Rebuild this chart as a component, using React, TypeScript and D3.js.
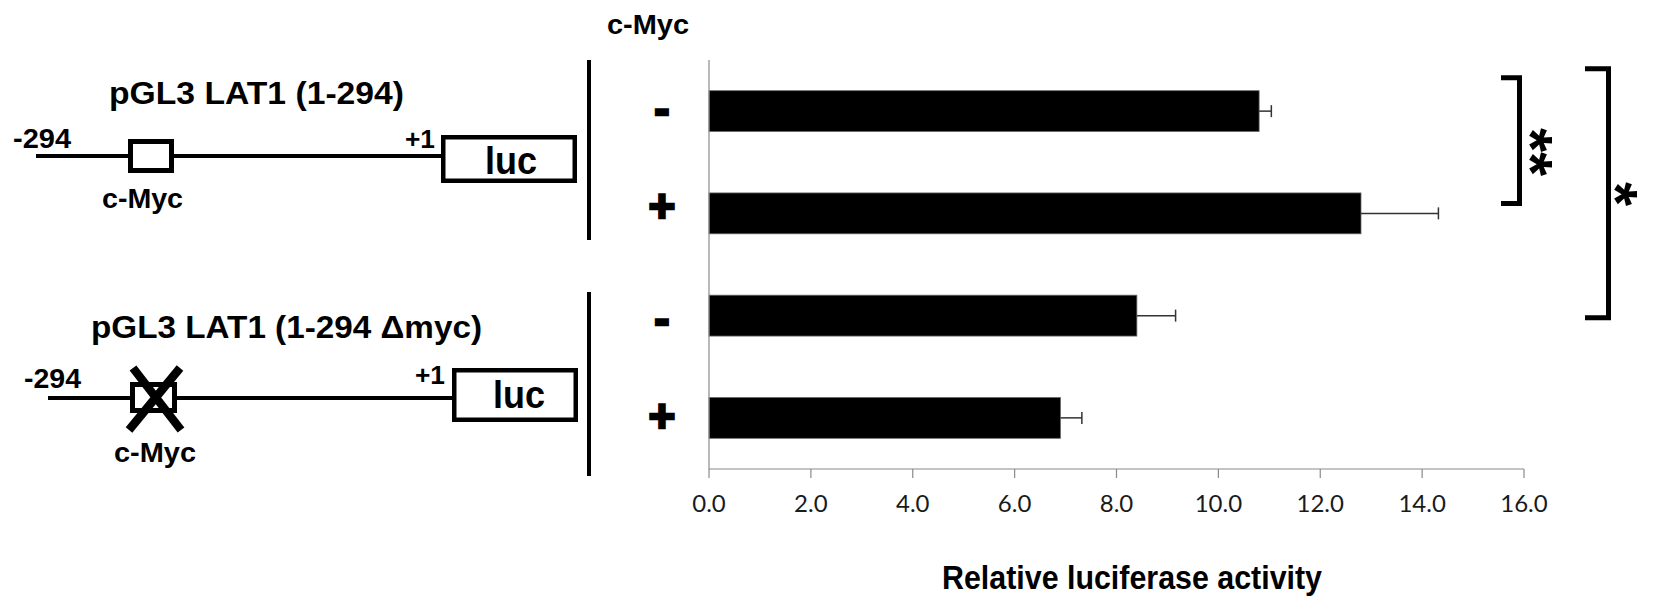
import React from 'react'
import * as d3 from 'd3'

// bar data, top to bottom
const categories = ['wt-', 'wt+', 'dm-', 'dm+']
const signs = ['-', '+', '-', '+']
const values = [10.8, 12.8, 8.4, 6.9]
const errors = [0.24, 1.52, 0.76, 0.42]
const ticks = [0, 2, 4, 6, 8, 10, 12, 14, 16]
const constructs = ['pGL3 LAT1 (1-294)', 'pGL3 LAT1 (1-294 \u0394myc)']
const yTitle = 'c-Myc'
const xTitle = 'Relative luciferase activity'

const W = 1654
const H = 609
const ARIAL = "'Liberation Sans', Arial, Helvetica, sans-serif"
const AXIS_GREY = '#8a8a8a'

function Label({ x, y, w, size, text }: { x: number; y: number; w: number; size: number; text: string }) {
  return (
    <text
      x={x}
      y={y}
      fontSize={size}
      fontWeight="bold"
      fontFamily={ARIAL}
      textLength={w}
      lengthAdjust="spacingAndGlyphs"
      fill="#000"
    >
      {text}
    </text>
  )
}

export default function App() {
  const x = d3.scaleLinear().domain([0, 16]).range([709, 1524])
  const y = d3.scaleBand<string>().domain(categories).range([60, 469]).paddingInner(0.6).paddingOuter(0.3)
  const bw = y.bandwidth()
  const fmt = d3.format('.1f')
  const mid = (i: number) => (y(categories[i]) as number) + bw / 2

  // significance brackets
  const brackets = [
    { top: (y(categories[0]) as number) - 13, bottom: mid(1) - 10, vx: 1519.5, arm: 1501, label: '**', lx: 1547, ly: 152 },
    { top: (y(categories[0]) as number) - 22, bottom: mid(2) + 2, vx: 1608.5, arm: 1585, label: '*', lx: 1632, ly: 194 },
  ]

  return (
    <svg width={W} height={H} style={{ position: 'absolute', left: 0, top: 0, background: '#fff' }}>
      <rect width={W} height={H} fill="#fff" />

      {/* construct 1 */}
      <Label x={109} y={104} w={295} size={31} text={constructs[0]} />
      <line x1={36} x2={443} y1={156} y2={156} stroke="#000" strokeWidth={4} />
      <rect x={130.5} y={141.5} width={41} height={29} fill="#fff" stroke="#000" strokeWidth={5} />
      <rect x={443.25} y={137.25} width={131.5} height={43.5} fill="#fff" stroke="#000" strokeWidth={4.5} />
      <Label x={13} y={148} w={58} size={28} text="-294" />
      <Label x={405} y={148} w={30} size={25} text="+1" />
      <Label x={485} y={174} w={52} size={38} text="luc" />
      <Label x={102} y={208} w={81} size={27} text="c-Myc" />
      <line x1={589} x2={589} y1={60} y2={240} stroke="#000" strokeWidth={4} />

      {/* construct 2 (deleted c-Myc site) */}
      <Label x={91} y={338} w={391} size={31} text={constructs[1]} />
      <line x1={48} x2={453} y1={398} y2={398} stroke="#000" strokeWidth={4} />
      <rect x={132.5} y={384.5} width={42} height={26} fill="#fff" stroke="#000" strokeWidth={5} />
      <line x1={133} y1={368} x2={181} y2={430} stroke="#000" strokeWidth={8.5} />
      <line x1={180} y1={368} x2={129} y2={430} stroke="#000" strokeWidth={8.5} />
      <rect x={454.25} y={370.25} width={121.5} height={49.5} fill="#fff" stroke="#000" strokeWidth={4.5} />
      <Label x={24} y={388} w={57} size={28} text="-294" />
      <Label x={415} y={384} w={30} size={25} text="+1" />
      <Label x={493} y={408} w={52} size={38} text="luc" />
      <Label x={114} y={462} w={82} size={27} text="c-Myc" />
      <line x1={589} x2={589} y1={292} y2={476} stroke="#000" strokeWidth={4} />

      {/* column header */}
      <Label x={607} y={34} w={82} size={27} text={yTitle} />

      {/* signs */}
      {signs.map((s, i) => (
        <text
          key={i}
          x={662}
          y={mid(i) + (s === '+' ? 14 : 18) - (i < 2 ? 5 : 0)}
          textAnchor="middle"
          fontSize={46}
          fontWeight="bold"
          fontFamily={ARIAL}
          stroke="#000"
          strokeWidth={2.5}
        >
          {s}
        </text>
      ))}

      {/* bars */}
      {values.map((v, i) => (
        <rect
          key={i}
          x={x(0)}
          y={y(categories[i])}
          width={x(v) - x(0)}
          height={bw}
          fill="#000"
          stroke="#6b6b6b"
          strokeWidth={0.8}
        />
      ))}

      {/* error bars */}
      {values.map((v, i) => (
        <g key={i} stroke="#333" strokeWidth={1.5}>
          <line x1={x(v)} x2={x(v + errors[i])} y1={mid(i)} y2={mid(i)} />
          <line x1={x(v + errors[i])} x2={x(v + errors[i])} y1={mid(i) - 6} y2={mid(i) + 6} />
        </g>
      ))}

      {/* axes */}
      <line x1={x(0)} x2={x(0)} y1={60} y2={469} stroke={AXIS_GREY} strokeWidth={1.2} />
      <line x1={x(0)} x2={x(16)} y1={469} y2={469} stroke={AXIS_GREY} strokeWidth={1.2} />
      {ticks.map((t) => (
        <g key={t}>
          <line x1={x(t)} x2={x(t)} y1={469} y2={478} stroke={AXIS_GREY} strokeWidth={1.2} />
          <text x={x(t)} y={512} textAnchor="middle" fontSize={24} fontFamily="Lato, 'Open Sans', sans-serif" fill="#1a1a1a">
            {fmt(t)}
          </text>
        </g>
      ))}
      <Label x={942} y={589} w={380} size={34} text={xTitle} />

      {/* significance */}
      {brackets.map((b, i) => (
        <g key={i}>
          <path
            d={`M${b.arm},${b.top} H${b.vx} V${b.bottom} H${b.arm}`}
            fill="none"
            stroke="#000"
            strokeWidth={5}
            strokeLinejoin="miter"
          />
          <text
            transform={`translate(${b.lx},${b.ly}) rotate(90)`}
            textAnchor="middle"
            dy="0.6em"
            fontSize={62}
            fontWeight="bold"
            fontFamily={ARIAL}
          >
            {b.label}
          </text>
        </g>
      ))}
    </svg>
  )
}
